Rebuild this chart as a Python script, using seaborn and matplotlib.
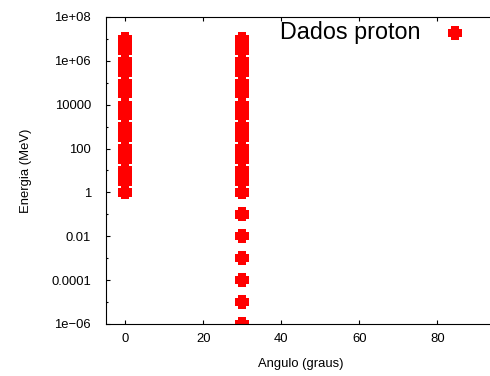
import matplotlib
matplotlib.use("Agg")
import matplotlib.pyplot as plt
import pandas as pd
import seaborn as sns
from matplotlib.ticker import FixedLocator, FixedFormatter, NullFormatter

# Measured proton energies (MeV) per scattering angle (degrees)
angulo_a = 0
energia_a = [1, 3, 5, 7,
             10, 30, 50, 70,
             100, 300, 500, 700,
             1e3, 3e3, 5e3, 7e3,
             1e4, 3e4, 5e4, 7e4,
             1e5, 3e5, 5e5, 7e5,
             1e6, 3e6, 5e6, 7e6,
             1e7]
angulo_b = 30
energia_b = [1e-6, 1e-5, 1e-4, 1e-3, 1e-2, 1e-1,
             1, 3, 5, 7,
             10, 30, 50, 70,
             100, 300, 500, 700,
             1e3, 3e3, 5e3, 7e3,
             1e4, 3e4, 5e4, 7e4,
             1e5, 3e5, 5e5, 7e5,
             1e6, 3e6, 5e6, 7e6,
             1e7]

serie_nome = "Dados proton"
x_rotulo = "Angulo (graus)"
y_rotulo = "Energia (MeV)"
x_ticks = [0, 20, 40, 60, 80]
y_ticks = [1e-6, 1e-4, 1e-2, 1, 1e2, 1e4, 1e6, 1e8]
y_ticklabels = ["1e\u221206", "0.0001", "0.01", "1", "100", "10000", "1e+06", "1e+08"]
y_minor = [1e-5, 1e-3, 1e-1, 10, 1e3, 1e5, 1e7]

df = pd.DataFrame({
    "angulo": [angulo_a] * len(energia_a) + [angulo_b] * len(energia_b),
    "energia": energia_a + energia_b,
})

sns.set_style("ticks")
plt.rcParams["font.family"] = ["Liberation Sans", "DejaVu Sans"]
plt.rcParams["axes.linewidth"] = 0.8
plt.rcParams["text.color"] = "black"
plt.rcParams["axes.labelcolor"] = "black"

W, H = 490, 376
fig = plt.figure(figsize=(W / 100, H / 100), dpi=100)
left, right, top, bottom = 105.5, 496, 17, 324
ax = fig.add_axes([left / W, 1 - bottom / H, (right - left) / W, (bottom - top) / H])

# thick plus-shaped filled point
a = 0.6
ponto = [(-a, 1), (a, 1), (a, a), (1, a), (1, -a), (a, -a), (a, -1),
         (-a, -1), (-a, -a), (-1, -a), (-1, a), (-a, a), (-a, 1)]

sns.scatterplot(data=df, x="angulo", y="energia", ax=ax, marker=ponto,
                s=(14 * 0.72) ** 2, color="#ff0000", edgecolor="none",
                linewidth=0, label=serie_nome, legend=False)

ax.set_yscale("log")
ax.set_xlim(-5, 95)
ax.set_ylim(1e-6, 1e8)

ax.xaxis.set_major_locator(FixedLocator(x_ticks))
ax.yaxis.set_major_locator(FixedLocator(y_ticks))
ax.yaxis.set_major_formatter(FixedFormatter(y_ticklabels))
ax.yaxis.set_minor_locator(FixedLocator(y_minor))
ax.yaxis.set_minor_formatter(NullFormatter())

ax.tick_params(axis="both", which="both", direction="in", top=True, right=True,
               labelsize=9.4, colors="black", width=0.8)
ax.tick_params(axis="y", which="major", length=3.0, pad=10.5)
ax.tick_params(axis="y", which="minor", length=1.5)
ax.tick_params(axis="x", which="major", length=3.0, pad=6.5)
ax.tick_params(axis="x", which="minor", length=0)
for s in ax.spines.values():
    s.set_color("black")

ax.set_xlabel(x_rotulo, fontsize=9.4, labelpad=9)
ax.set_ylabel(y_rotulo, fontsize=9.4, labelpad=14)

leg = ax.legend(loc="upper right", bbox_to_anchor=(466.7 / W, 1 - 21 / H),
                bbox_transform=fig.transFigure, frameon=False, markerfirst=False,
                fontsize=16.8, scatterpoints=1, handlelength=1.0,
                handletextpad=1.0, borderpad=0, borderaxespad=0,
                labelcolor="black")

fig.savefig("out.png", dpi=100)
